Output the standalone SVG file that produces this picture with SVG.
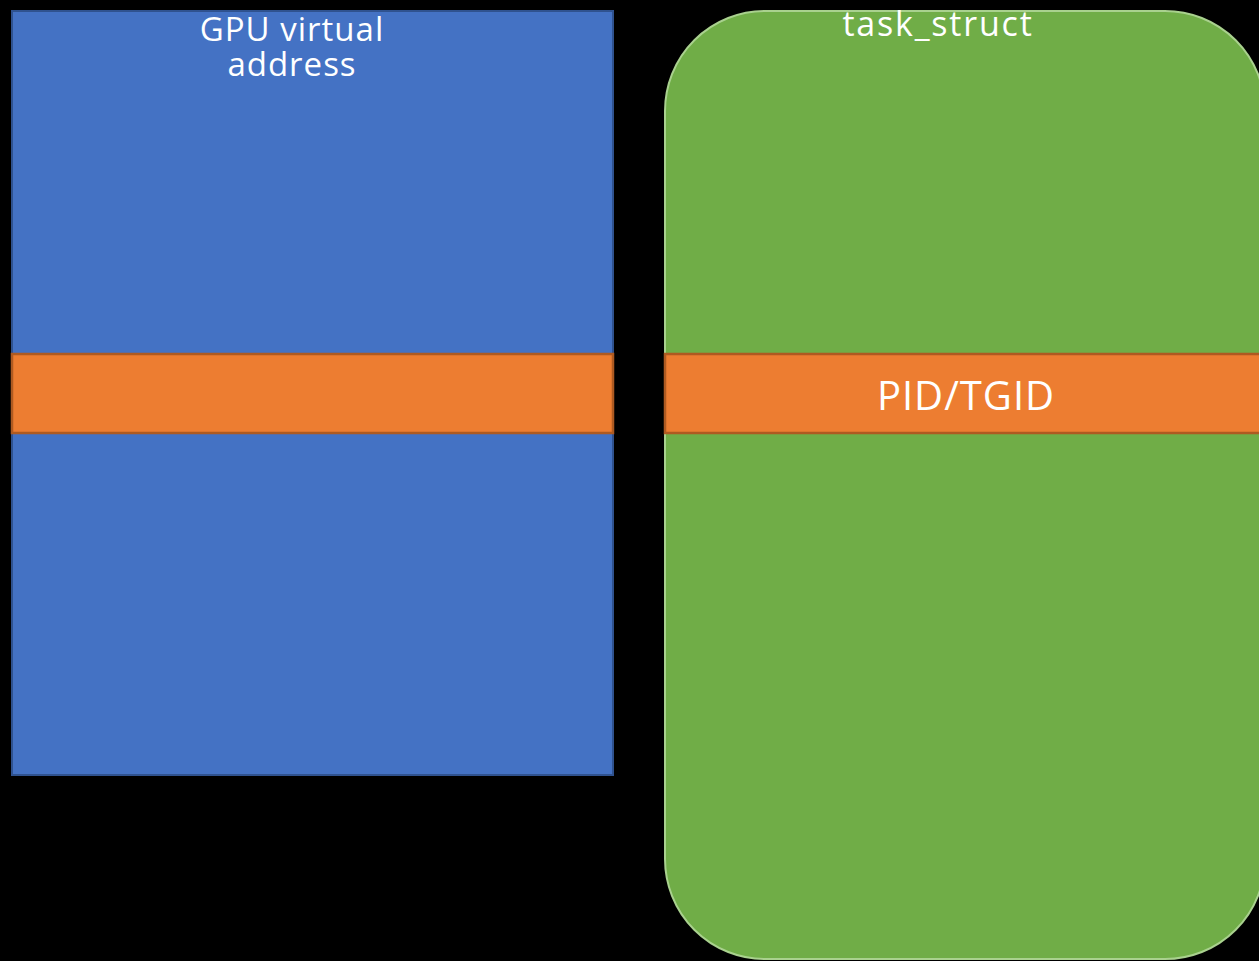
<svg xmlns="http://www.w3.org/2000/svg" width="1259" height="961" viewBox="0 0 1259 961">
  <style>
    .label { font-family: "Open Sans", "Liberation Sans", Arial, sans-serif; fill: #ffffff; text-anchor: middle; }
    .blue { fill: #4472C4; stroke: #2F528F; stroke-width: 2; }
    .green { fill: #70AD47; stroke: #A9D18E; stroke-width: 2; }
    .field { fill: #ED7D31; stroke: #AE5A21; stroke-width: 2.5; }
  </style>
  <rect width="1259" height="961" fill="#000000"/>

  <!-- GPU virtual address space -->
  <g id="gpu-va">
    <rect class="blue" x="12" y="11" width="601" height="764"/>
    <rect class="field" x="12" y="354" width="601" height="79"/>
    <text class="label" font-size="33" letter-spacing="1" x="292" y="41">GPU virtual</text>
    <text class="label" font-size="33" letter-spacing="1" x="292" y="76">address</text>
  </g>

  <!-- Kernel task_struct -->
  <g id="task-struct">
    <rect class="green" x="665" y="11" width="600" height="948" rx="100" ry="100"/>
    <rect class="field" x="665" y="354" width="600" height="79"/>
    <text class="label" font-size="34" letter-spacing="1.8" x="938" y="36">task_struct</text>
    <text class="label" font-size="40" letter-spacing="1" x="966" y="410">PID/TGID</text>
  </g>

  <g id="connectors"></g>
</svg>
